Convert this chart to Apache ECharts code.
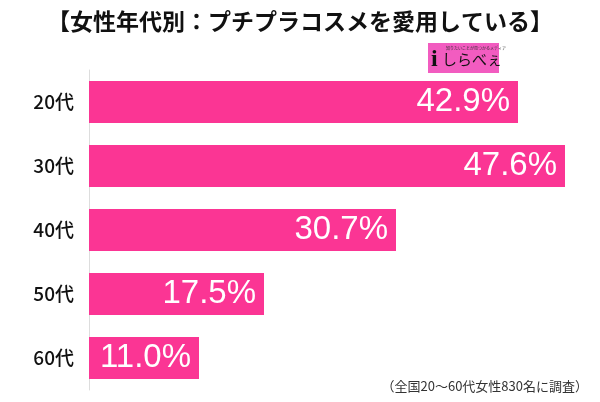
<!DOCTYPE html>
<html>
<head>
<meta charset="utf-8">
<script src="https://cdn.jsdelivr.net/npm/echarts@6/dist/echarts.min.js"></script>
<style>
  html, body { margin: 0; padding: 0; background: #fff; }
  #chart { width: 600px; height: 402px; }
</style>
</head>
<body>
<div id="chart"></div>
<script>
  // データ
  var categories = ['20代', '30代', '40代', '50代', '60代'];
  var values = [42.9, 47.6, 30.7, 17.5, 11.0];
  var titleText = '【女性年代別：プチプラコスメを愛用している】';
  var noteText = '（全国20～60代女性830名に調査）';

  var myChart = echarts.init(document.getElementById('chart'));
  var option = {
    animation: false,
    title: {
      text: titleText,
      left: 'center',
      top: 5,
      textStyle: {
        fontFamily: 'Noto Sans CJK JP',
        fontSize: 23,
        fontWeight: 'bold',
        color: '#111'
      }
    },
    grid: {
      left: 89,
      right: 11,
      top: 70,
      bottom: 12
    },
    xAxis: {
      type: 'value',
      min: 0,
      max: 50,
      show: false
    },
    yAxis: {
      type: 'category',
      data: categories,
      inverse: true,
      axisLine: { show: true, lineStyle: { color: '#ddd', width: 1 } },
      axisTick: { show: false },
      axisLabel: {
        margin: 15,
        fontFamily: 'Noto Sans CJK JP',
        fontSize: 19,
        fontWeight: 500,
        color: '#111'
      }
    },
    series: [
      {
        type: 'bar',
        data: values,
        barWidth: '66%',
        itemStyle: { color: '#fb3594' },
        label: {
          show: true,
          position: 'insideRight',
          distance: 8,
          color: '#fff',
          fontFamily: 'Liberation Sans',
          fontSize: 33,
          formatter: function (p) { return p.value.toFixed(1) + '%'; }
        }
      }
    ],
    graphic: [
      // ロゴ
      {
        type: 'rect',
        shape: { x: 428, y: 43, width: 71, height: 30 },
        style: { fill: '#f25cc0' }
      },
      {
        type: 'text',
        left: 431,
        top: 48,
        style: {
          text: 'i',
          font: 'bold 24px Liberation Serif',
          fill: '#111'
        }
      },
      {
        type: 'text',
        left: 442,
        top: 52,
        style: {
          text: 'しらべぇ',
          font: '15px Noto Sans CJK JP',
          fill: '#111'
        }
      },
      {
        type: 'text',
        left: 446,
        top: 46,
        style: {
          text: '知りたいことが見つかるメディア',
          font: '4px Noto Sans CJK JP',
          fill: '#333'
        }
      },
      // 注記
      {
        type: 'text',
        right: 12,
        top: 380,
        style: {
          text: noteText,
          font: '13px Noto Sans CJK JP',
          fill: '#333'
        }
      }
    ]
  };
  myChart.setOption(option);
</script>
</body>
</html>
